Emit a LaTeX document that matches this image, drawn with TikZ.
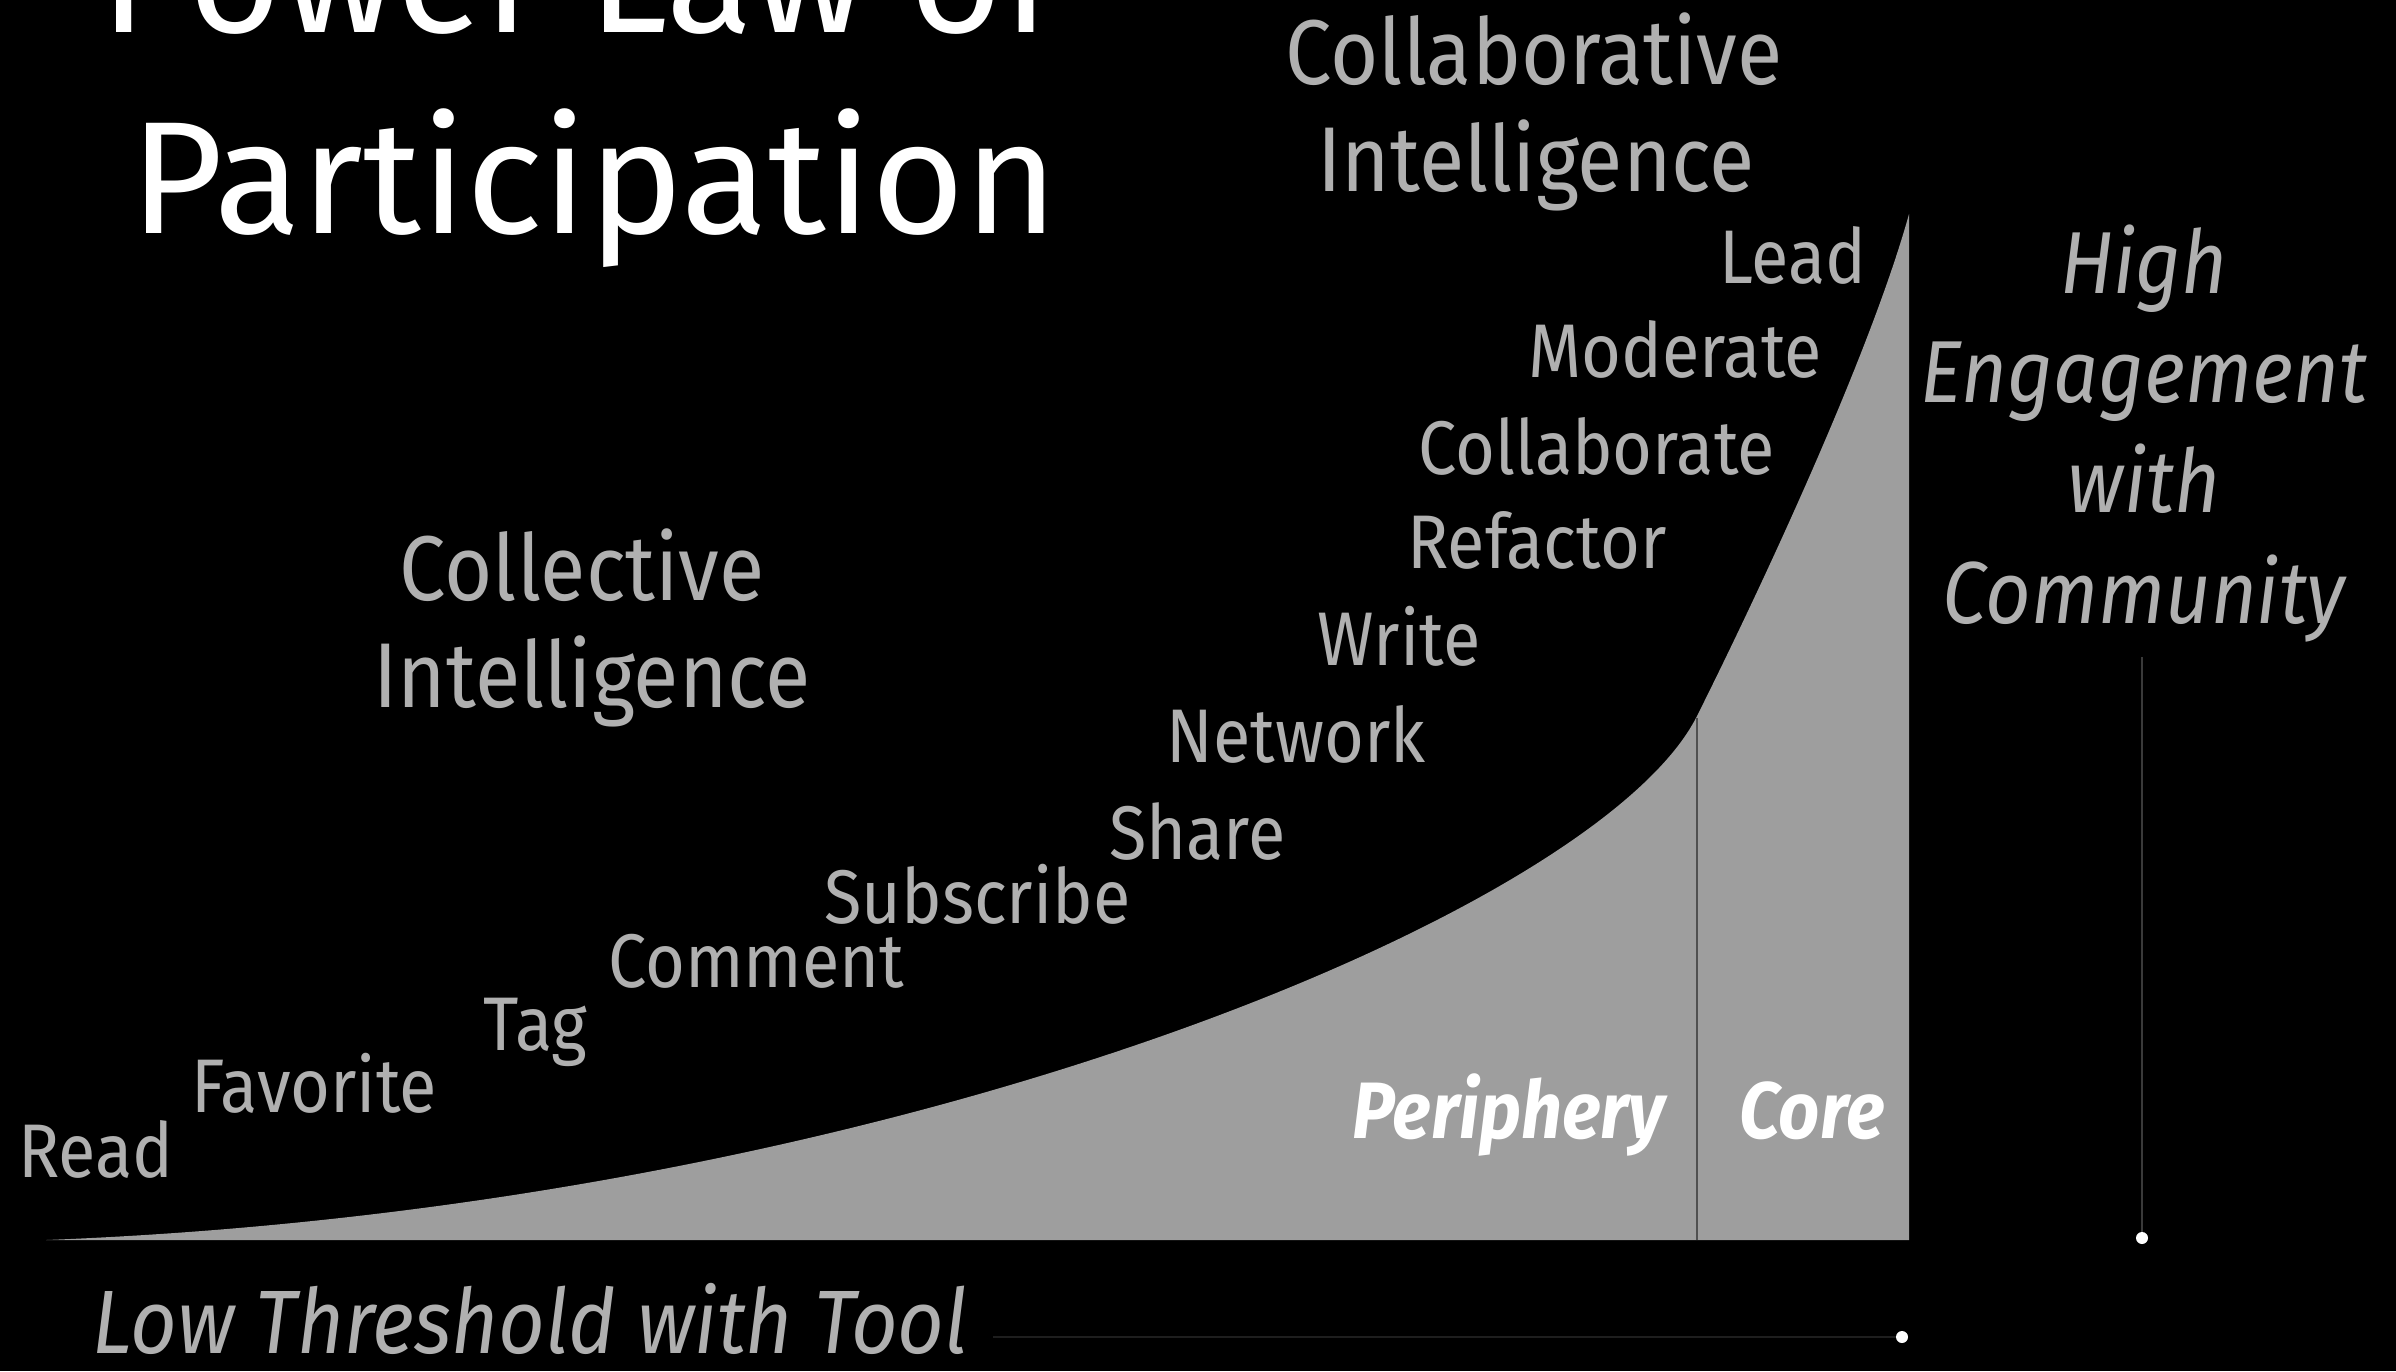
\documentclass[tikz,border=0pt]{standalone}
\usepackage{fontspec}
\setmainfont{Fira Sans}[FakeStretch=0.9]
\newfontfamily\titlefont{Fira Sans}
\definecolor{lgrey}{HTML}{B0B0B0}
\definecolor{fillgrey}{HTML}{9E9E9E}
\definecolor{divgrey}{HTML}{505050}
\definecolor{hline}{HTML}{1E1E1E}
\definecolor{vline}{HTML}{3A3A3A}
\tikzset{
  lbl/.style={text=lgrey, font=\fontsize{38}{40}\selectfont, inner sep=0pt, anchor=base west},
  big/.style={text=lgrey, font=\fontsize{46}{48}\selectfont, inner sep=0pt, anchor=base},
  side/.style={text=lgrey, font=\itshape\fontsize{44}{46}\selectfont, inner sep=0pt, anchor=base},
  title/.style={text=white, font=\titlefont\fontsize{80}{82}\selectfont, inner sep=0pt, anchor=base west},
  region/.style={text=white, font=\bfseries\itshape\fontsize{40}{42}\selectfont, inner sep=0pt, anchor=base west},
  dot/.style={circle, fill=white, inner sep=0pt, minimum size=6pt},
}
\begin{document}
\begin{tikzpicture}[x=0.5pt,y=-0.5pt]
\fill[black] (0,0) rectangle (2396,1371);
\useasboundingbox (0,0) rectangle (2396,1371);
% curve area
\fill[fillgrey] (46,1240) .. controls (900,1207) and (1600,910) .. (1697,716)
  .. controls (1757,596) and (1869,358) .. (1909,214) -- (1909,1240) -- cycle;
\draw[divgrey, line width=1.2pt] (1697,1240) -- (1697,718);
% titles
\node[title] (t1) at (100,32) {Power Law of};
\node[title] (t2) at (130,233) {Participation};
\node[big] (cb1) at (1534,84) {Collaborative};
\node[big] (cb2) at (1536,191) {Intelligence};
\node[big] (cl1) at (582,600) {Collective};
\node[big] (cl2) at (592,707) {Intelligence};
% activity labels
\node[lbl] (read) at (18,1177) {Read};
\node[lbl] (fav) at (191,1112) {Favorite};
\node[lbl] (tag) at (483,1050) {Tag};
\node[lbl] (com) at (608,987) {Comment};
\node[lbl] (sub) at (824,923) {Subscribe};
\node[lbl] (sha) at (1109,859) {Share};
\node[lbl] (net) at (1166,762) {Network};
\node[lbl] (wri) at (1317,665) {Write};
\node[lbl] (ref) at (1407,568) {Refactor};
\node[lbl] (col) at (1418,474) {Collaborate};
\node[lbl] (mod) at (1528,377) {Moderate};
\node[lbl] (lea) at (1719,283) {Lead};
% regions
\node[region] (per) at (1352,1138) {Periphery};
\node[region] (cor) at (1739,1138) {Core};
% side texts
\node[side] (h1) at (2144,293) {High};
\node[side] (h2) at (2144,402) {Engagement};
\node[side] (h3) at (2144,512) {with};
\node[side] (h4) at (2144,623) {Community};
\node[side, anchor=base west, font=\itshape\fontsize{45}{47}\selectfont] (low) at (92,1353) {Low Threshold with Tool};
% dots and lines
\node[dot] (d1) at (1902,1337) {};
\node[dot] (d2) at (2142,1238) {};
\coordinate (hs) at (993,1337);
\coordinate (vs) at (2142,657);
\draw[hline, line width=1.2pt] (hs) -- (d1);
\draw[vline, line width=1pt] (vs) -- (d2);
\end{tikzpicture}
\end{document}
